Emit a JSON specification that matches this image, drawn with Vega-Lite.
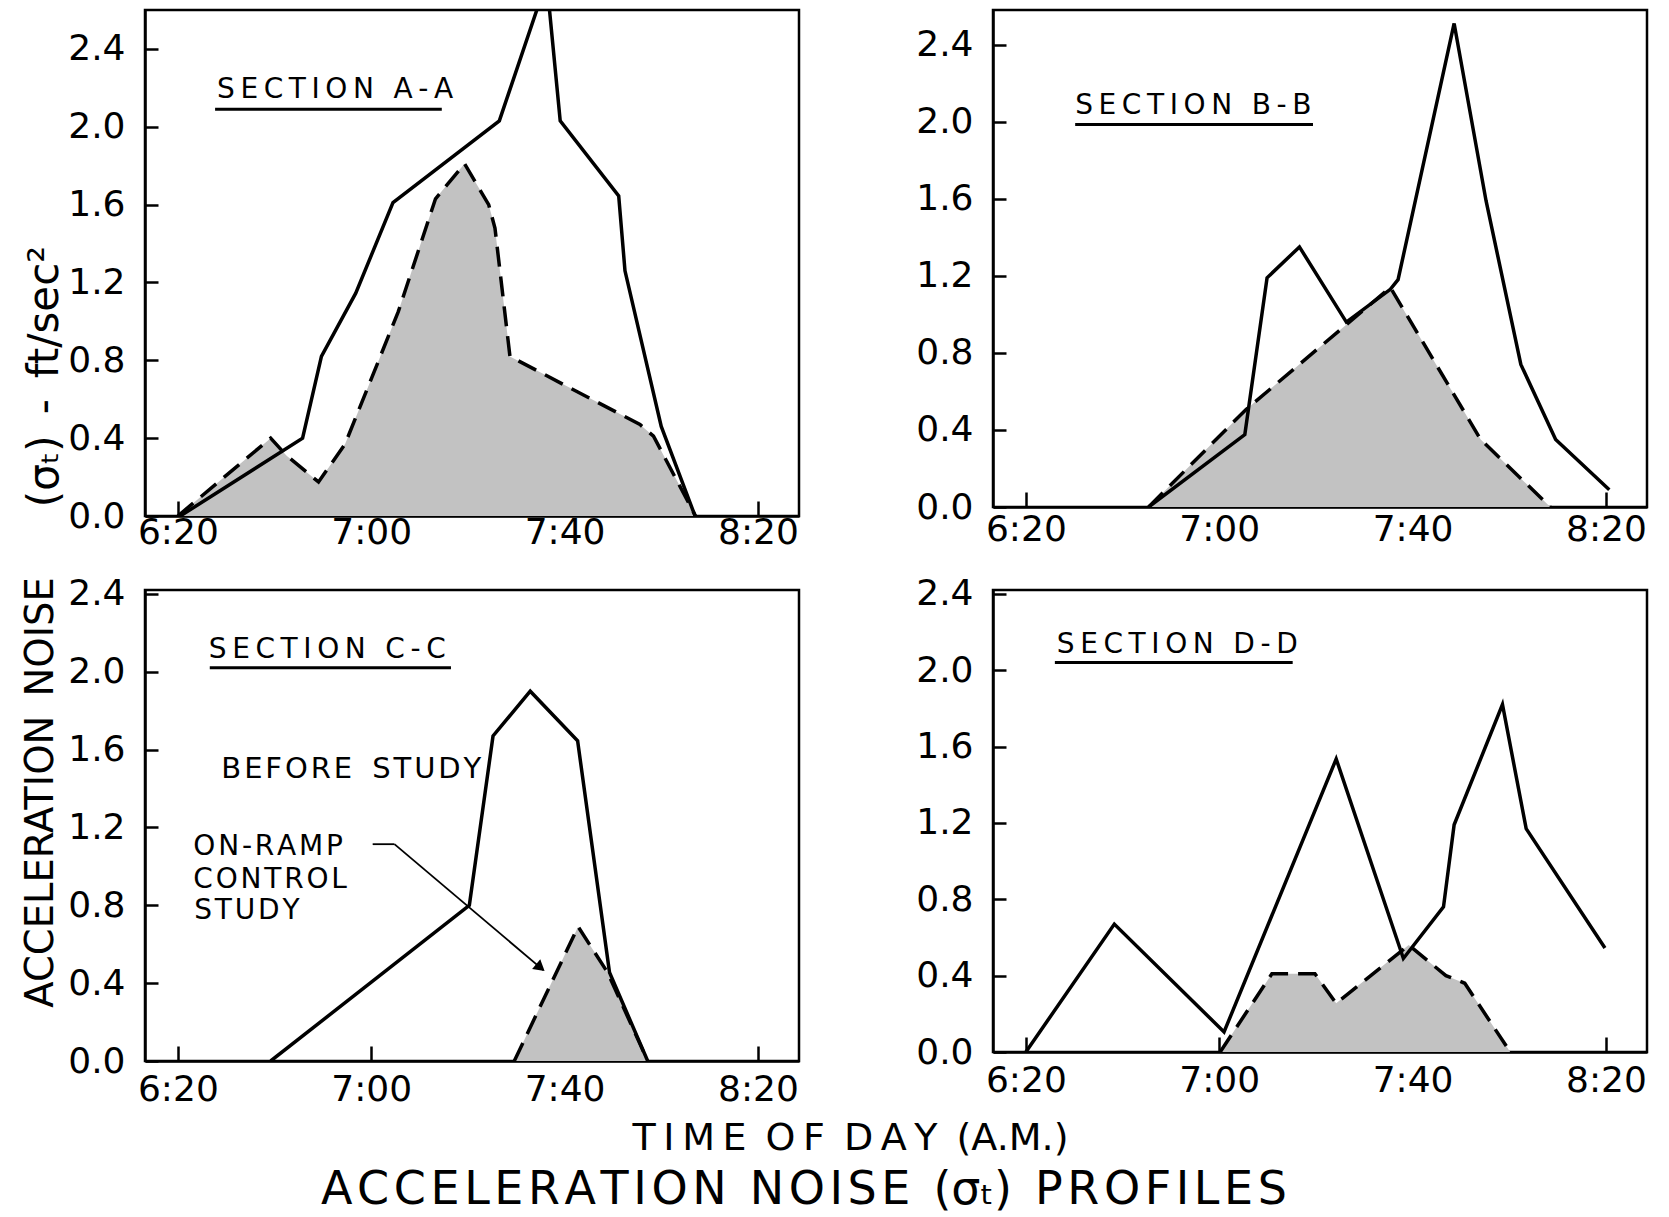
{
  "$schema": "https://vega.github.io/schema/vega-lite/v6.json",
  "background": "white",
  "padding": {"left": 19, "top": 8, "right": 10, "bottom": 2},
  "title": {
    "text": "A\u200aC\u200aC\u200aE\u200aL\u200aE\u200aR\u200aA\u200aT\u200aI\u200aO\u200aN\u2002N\u200aO\u200aI\u200aS\u200aE\u2002(σₜ)\u2002P\u200aR\u200aO\u200aF\u200aI\u200aL\u200aE\u200aS",
    "orient": "bottom",
    "anchor": "middle",
    "font": "DejaVu Sans",
    "fontSize": 46,
    "fontWeight": "normal",
    "color": "black",
    "offset": 10,
    "dx": -30
  },
  "datasets": {
    "profiles": [
      {"section": "A", "study": "before", "t": 20.5, "v": 0},
      {"section": "A", "study": "before", "t": 45.8, "v": 0.40},
      {"section": "A", "study": "before", "t": 49.7, "v": 0.82},
      {"section": "A", "study": "before", "t": 56.8, "v": 1.145},
      {"section": "A", "study": "before", "t": 64.5, "v": 1.61},
      {"section": "A", "study": "before", "t": 86.5, "v": 2.03},
      {"section": "A", "study": "before", "t": 96.3, "v": 2.75},
      {"section": "A", "study": "before", "t": 99.1, "v": 2.03},
      {"section": "A", "study": "before", "t": 111.2, "v": 1.645},
      {"section": "A", "study": "before", "t": 112.5, "v": 1.26},
      {"section": "A", "study": "before", "t": 120.0, "v": 0.46},
      {"section": "A", "study": "before", "t": 127.0, "v": 0},
      {"section": "A", "study": "ramp", "t": 20.0, "v": 0},
      {"section": "A", "study": "ramp", "t": 39.2, "v": 0.40},
      {"section": "A", "study": "ramp", "t": 42.5, "v": 0.31},
      {"section": "A", "study": "ramp", "t": 49.1, "v": 0.175},
      {"section": "A", "study": "ramp", "t": 54.6, "v": 0.37},
      {"section": "A", "study": "ramp", "t": 65.6, "v": 1.05},
      {"section": "A", "study": "ramp", "t": 73.3, "v": 1.63},
      {"section": "A", "study": "ramp", "t": 79.3, "v": 1.81},
      {"section": "A", "study": "ramp", "t": 84.3, "v": 1.60},
      {"section": "A", "study": "ramp", "t": 85.6, "v": 1.48},
      {"section": "A", "study": "ramp", "t": 88.7, "v": 0.82},
      {"section": "A", "study": "ramp", "t": 100.2, "v": 0.67},
      {"section": "A", "study": "ramp", "t": 115.6, "v": 0.47},
      {"section": "A", "study": "ramp", "t": 118.4, "v": 0.41},
      {"section": "A", "study": "ramp", "t": 127.1, "v": 0},
      {"section": "B", "study": "before", "t": 45.4, "v": 0},
      {"section": "B", "study": "before", "t": 65.3, "v": 0.376},
      {"section": "B", "study": "before", "t": 69.9, "v": 1.19},
      {"section": "B", "study": "before", "t": 76.6, "v": 1.35},
      {"section": "B", "study": "before", "t": 86.3, "v": 0.96},
      {"section": "B", "study": "before", "t": 95.4, "v": 1.13},
      {"section": "B", "study": "before", "t": 97.0, "v": 1.18},
      {"section": "B", "study": "before", "t": 108.6, "v": 2.51},
      {"section": "B", "study": "before", "t": 115.2, "v": 1.59},
      {"section": "B", "study": "before", "t": 122.4, "v": 0.74},
      {"section": "B", "study": "before", "t": 129.6, "v": 0.35},
      {"section": "B", "study": "before", "t": 140.7, "v": 0.09},
      {"section": "B", "study": "ramp", "t": 45.4, "v": 0},
      {"section": "B", "study": "ramp", "t": 65.5, "v": 0.505},
      {"section": "B", "study": "ramp", "t": 95.4, "v": 1.14},
      {"section": "B", "study": "ramp", "t": 114.1, "v": 0.35},
      {"section": "B", "study": "ramp", "t": 128.5, "v": 0},
      {"section": "C", "study": "before", "t": 39.2, "v": 0},
      {"section": "C", "study": "before", "t": 80.3, "v": 0.80},
      {"section": "C", "study": "before", "t": 85.2, "v": 1.67},
      {"section": "C", "study": "before", "t": 92.9, "v": 1.90},
      {"section": "C", "study": "before", "t": 102.7, "v": 1.645},
      {"section": "C", "study": "before", "t": 109.3, "v": 0.455},
      {"section": "C", "study": "before", "t": 117.2, "v": 0},
      {"section": "C", "study": "ramp", "t": 89.6, "v": 0},
      {"section": "C", "study": "ramp", "t": 102.8, "v": 0.69},
      {"section": "C", "study": "ramp", "t": 108.9, "v": 0.455},
      {"section": "C", "study": "ramp", "t": 117.2, "v": 0},
      {"section": "D", "study": "before", "t": 20.0, "v": 0},
      {"section": "D", "study": "before", "t": 38.3, "v": 0.67},
      {"section": "D", "study": "before", "t": 61.0, "v": 0.105},
      {"section": "D", "study": "before", "t": 84.2, "v": 1.535},
      {"section": "D", "study": "before", "t": 98.1, "v": 0.49},
      {"section": "D", "study": "before", "t": 106.4, "v": 0.76},
      {"section": "D", "study": "before", "t": 108.6, "v": 1.19},
      {"section": "D", "study": "before", "t": 118.6, "v": 1.82},
      {"section": "D", "study": "before", "t": 123.5, "v": 1.17},
      {"section": "D", "study": "before", "t": 139.8, "v": 0.545},
      {"section": "D", "study": "ramp", "t": 60.2, "v": 0},
      {"section": "D", "study": "ramp", "t": 70.9, "v": 0.41},
      {"section": "D", "study": "ramp", "t": 79.8, "v": 0.41},
      {"section": "D", "study": "ramp", "t": 84.2, "v": 0.255},
      {"section": "D", "study": "ramp", "t": 99.2, "v": 0.56},
      {"section": "D", "study": "ramp", "t": 106.9, "v": 0.40},
      {"section": "D", "study": "ramp", "t": 110.8, "v": 0.36},
      {"section": "D", "study": "ramp", "t": 120.2, "v": 0}
    ],
    "notes": [
      {"note": "annotation"}
    ]
  },
  "columns": 2,
  "bounds": "flush",
  "spacing": {"row": 74, "column": 194},
  "concat": [
    {
      "width": 654,
      "height": 506,
      "layer": [
        {"data": {"name": "profiles"}, "transform": [{"filter": "datum.section == 'A' && datum.study == 'ramp'"}], "mark": {"type": "area", "color": "#c2c2c2"},
         "encoding": {
           "x": {"field": "t", "type": "quantitative", "scale": {"domain": [13.2, 148.5], "nice": false, "zero": false},
                 "axis": {"values": [20, 60, 100, 140], "labelPadding": 14, "labelExpr": "(6 + floor(datum.value / 60)) + ':' + (datum.value % 60 < 10 ? '0' : '') + (datum.value % 60)", "title": null}},
           "y": {"field": "v", "type": "quantitative", "scale": {"domain": [0, 2.6], "nice": false},
                 "axis": {"values": [0, 0.4, 0.8, 1.2, 1.6, 2.0, 2.4], "format": ".1f",
                          "title": "(σₜ)\u2002-\u2002ft/sec²", "titleFontSize": 42, "titleAngle": -90, "titleAlign": "center",
                          "titleBaseline": "alphabetic", "titleX": -88, "titleY": 366}}
         }},
        {"data": {"name": "profiles"}, "transform": [{"filter": "datum.section == 'A' && datum.study == 'ramp'"}], "mark": {"type": "line", "color": "black", "strokeWidth": 3.5, "strokeDash": [20, 10]},
         "encoding": {"x": {"field": "t", "type": "quantitative"}, "y": {"field": "v", "type": "quantitative"}}},
        {"data": {"name": "profiles"}, "transform": [{"filter": "datum.section == 'A' && datum.study == 'before'"}], "mark": {"type": "line", "color": "black", "strokeWidth": 3.5, "clip": true},
         "encoding": {"x": {"field": "t", "type": "quantitative"}, "y": {"field": "v", "type": "quantitative"}}},
        {"data": {"name": "notes"}, "mark": {"type": "text", "text": "S\u2009E\u2009C\u2009T\u2009I\u2009O\u2009N\u2002\u2009A\u2009-\u2009A", "font": "DejaVu Sans", "fontSize": 28, "align": "left", "baseline": "alphabetic", "color": "black"},
         "encoding": {"x": {"datum": 28.1}, "y": {"datum": 2.15}}},
        {"data": {"name": "notes"}, "mark": {"type": "rule", "color": "black", "strokeWidth": 3},
         "encoding": {"x": {"datum": 27.7}, "x2": {"datum": 74.6}, "y": {"datum": 2.09}}}
      ]
    },
    {
      "width": 654,
      "height": 497,
      "layer": [
        {"data": {"name": "profiles"}, "transform": [{"filter": "datum.section == 'B' && datum.study == 'ramp'"}], "mark": {"type": "area", "color": "#c2c2c2"},
         "encoding": {
           "x": {"field": "t", "type": "quantitative", "scale": {"domain": [13.2, 148.5], "nice": false, "zero": false},
                 "axis": {"values": [20, 60, 100, 140], "labelPadding": 20, "labelExpr": "(6 + floor(datum.value / 60)) + ':' + (datum.value % 60 < 10 ? '0' : '') + (datum.value % 60)", "title": null}},
           "y": {"field": "v", "type": "quantitative", "scale": {"domain": [0, 2.58], "nice": false},
                 "axis": {"values": [0, 0.4, 0.8, 1.2, 1.6, 2.0, 2.4], "format": ".1f", "title": null}}
         }},
        {"data": {"name": "profiles"}, "transform": [{"filter": "datum.section == 'B' && datum.study == 'ramp'"}], "mark": {"type": "line", "color": "black", "strokeWidth": 3.5, "strokeDash": [20, 10]},
         "encoding": {"x": {"field": "t", "type": "quantitative"}, "y": {"field": "v", "type": "quantitative"}}},
        {"data": {"name": "profiles"}, "transform": [{"filter": "datum.section == 'B' && datum.study == 'before'"}], "mark": {"type": "line", "color": "black", "strokeWidth": 3.5, "clip": true},
         "encoding": {"x": {"field": "t", "type": "quantitative"}, "y": {"field": "v", "type": "quantitative"}}},
        {"data": {"name": "notes"}, "mark": {"type": "text", "text": "S\u2009E\u2009C\u2009T\u2009I\u2009O\u2009N\u2002\u2009B\u2009-\u2009B", "font": "DejaVu Sans", "fontSize": 28, "align": "left", "baseline": "alphabetic", "color": "black"},
         "encoding": {"x": {"datum": 30.2}, "y": {"datum": 2.04}}},
        {"data": {"name": "notes"}, "mark": {"type": "rule", "color": "black", "strokeWidth": 3},
         "encoding": {"x": {"datum": 30.2}, "x2": {"datum": 79.4}, "y": {"datum": 1.985}}}
      ]
    },
    {
      "width": 654,
      "height": 471,
      "layer": [
        {"data": {"name": "profiles"}, "transform": [{"filter": "datum.section == 'C' && datum.study == 'ramp'"}], "mark": {"type": "area", "color": "#c2c2c2"},
         "encoding": {
           "x": {"field": "t", "type": "quantitative", "scale": {"domain": [13.2, 148.5], "nice": false, "zero": false},
                 "axis": {"values": [20, 60, 100, 140], "labelExpr": "(6 + floor(datum.value / 60)) + ':' + (datum.value % 60 < 10 ? '0' : '') + (datum.value % 60)",
                          "title": "T\u2009I\u2009M\u2009E\u2002O\u2009F\u2002D\u2009A\u2009Y\u2002(A.M.)", "titleFontSize": 38, "titleAlign": "center", "titleBaseline": "alphabetic",
                          "titleX": 705, "titleY": 88}},
           "y": {"field": "v", "type": "quantitative", "scale": {"domain": [0, 2.42], "nice": false},
                 "axis": {"values": [0, 0.4, 0.8, 1.2, 1.6, 2.0, 2.4], "format": ".1f",
                          "title": "ACCELERATION\u2002NOISE", "titleFontSize": 38.5, "titleAngle": -90, "titleAlign": "center",
                          "titleBaseline": "alphabetic", "titleX": -93, "titleY": 202}}
         }},
        {"data": {"name": "profiles"}, "transform": [{"filter": "datum.section == 'C' && datum.study == 'ramp'"}], "mark": {"type": "line", "color": "black", "strokeWidth": 3.5, "strokeDash": [20, 10]},
         "encoding": {"x": {"field": "t", "type": "quantitative"}, "y": {"field": "v", "type": "quantitative"}}},
        {"data": {"name": "profiles"}, "transform": [{"filter": "datum.section == 'C' && datum.study == 'before'"}], "mark": {"type": "line", "color": "black", "strokeWidth": 3.5, "clip": true},
         "encoding": {"x": {"field": "t", "type": "quantitative"}, "y": {"field": "v", "type": "quantitative"}}},
        {"data": {"name": "notes"}, "mark": {"type": "text", "text": "S\u2009E\u2009C\u2009T\u2009I\u2009O\u2009N\u2002\u2009C\u2009-\u2009C", "font": "DejaVu Sans", "fontSize": 28, "align": "left", "baseline": "alphabetic", "color": "black"},
         "encoding": {"x": {"datum": 26.4}, "y": {"datum": 2.07}}},
        {"data": {"name": "notes"}, "mark": {"type": "rule", "color": "black", "strokeWidth": 3},
         "encoding": {"x": {"datum": 26.6}, "x2": {"datum": 76.5}, "y": {"datum": 2.02}}},
        {"data": {"name": "notes"}, "mark": {"type": "text", "text": "B\u200aE\u200aF\u200aO\u200aR\u200aE\u2002\u2009S\u200aT\u200aU\u200aD\u200aY", "font": "DejaVu Sans", "fontSize": 29, "align": "left", "baseline": "alphabetic", "color": "black"},
         "encoding": {"x": {"datum": 29.0}, "y": {"datum": 1.455}}},
        {"data": {"name": "notes"}, "mark": {"type": "text", "text": "O\u200aN\u200a-\u200aR\u200aA\u200aM\u200aP", "font": "DejaVu Sans", "fontSize": 28, "align": "left", "baseline": "alphabetic", "color": "black"},
         "encoding": {"x": {"datum": 23.2}, "y": {"datum": 1.059}}},
        {"data": {"name": "notes"}, "mark": {"type": "text", "text": "C\u200aO\u200aN\u200aT\u200aR\u200aO\u200aL", "font": "DejaVu Sans", "fontSize": 28, "align": "left", "baseline": "alphabetic", "color": "black"},
         "encoding": {"x": {"datum": 23.2}, "y": {"datum": 0.891}}},
        {"data": {"name": "notes"}, "mark": {"type": "text", "text": "S\u200aT\u200aU\u200aD\u200aY", "font": "DejaVu Sans", "fontSize": 28, "align": "left", "baseline": "alphabetic", "color": "black"},
         "encoding": {"x": {"datum": 23.4}, "y": {"datum": 0.73}}},
        {"data": {"name": "notes"}, "mark": {"type": "rule", "color": "black", "strokeWidth": 1.8},
         "encoding": {"x": {"datum": 60.3}, "x2": {"datum": 64.8}, "y": {"datum": 1.114}}},
        {"data": {"name": "notes"}, "mark": {"type": "rule", "color": "black", "strokeWidth": 1.8},
         "encoding": {"x": {"datum": 64.8}, "x2": {"datum": 95.6}, "y": {"datum": 1.114}, "y2": {"datum": 0.467}}},
        {"data": {"name": "notes"}, "mark": {"type": "point", "shape": "triangle-right", "filled": true, "color": "black", "size": 160, "angle": 40, "opacity": 1},
         "encoding": {"x": {"datum": 95.0}, "y": {"datum": 0.48}}}
      ]
    },
    {
      "width": 654,
      "height": 462,
      "layer": [
        {"data": {"name": "profiles"}, "transform": [{"filter": "datum.section == 'D' && datum.study == 'ramp'"}], "mark": {"type": "area", "color": "#c2c2c2"},
         "encoding": {
           "x": {"field": "t", "type": "quantitative", "scale": {"domain": [13.2, 148.5], "nice": false, "zero": false},
                 "axis": {"values": [20, 60, 100, 140], "labelExpr": "(6 + floor(datum.value / 60)) + ':' + (datum.value % 60 < 10 ? '0' : '') + (datum.value % 60)", "title": null}},
           "y": {"field": "v", "type": "quantitative", "scale": {"domain": [0, 2.42], "nice": false},
                 "axis": {"values": [0, 0.4, 0.8, 1.2, 1.6, 2.0, 2.4], "format": ".1f", "title": null}}
         }},
        {"data": {"name": "profiles"}, "transform": [{"filter": "datum.section == 'D' && datum.study == 'ramp'"}], "mark": {"type": "line", "color": "black", "strokeWidth": 3.5, "strokeDash": [20, 10]},
         "encoding": {"x": {"field": "t", "type": "quantitative"}, "y": {"field": "v", "type": "quantitative"}}},
        {"data": {"name": "profiles"}, "transform": [{"filter": "datum.section == 'D' && datum.study == 'before'"}], "mark": {"type": "line", "color": "black", "strokeWidth": 3.5, "clip": true},
         "encoding": {"x": {"field": "t", "type": "quantitative"}, "y": {"field": "v", "type": "quantitative"}}},
        {"data": {"name": "notes"}, "mark": {"type": "text", "text": "S\u2009E\u2009C\u2009T\u2009I\u2009O\u2009N\u2002\u2009D\u2009-\u2009D", "font": "DejaVu Sans", "fontSize": 28, "align": "left", "baseline": "alphabetic", "color": "black"},
         "encoding": {"x": {"datum": 26.4}, "y": {"datum": 2.09}}},
        {"data": {"name": "notes"}, "mark": {"type": "rule", "color": "black", "strokeWidth": 3},
         "encoding": {"x": {"datum": 26.0}, "x2": {"datum": 75.2}, "y": {"datum": 2.04}}}
      ]
    }
  ],
  "config": {
    "view": {"stroke": "black", "strokeWidth": 2.5},
    "axis": {
      "grid": false,
      "labelFont": "DejaVu Sans",
      "labelFontSize": 36,
      "labelColor": "black",
      "labelFlush": false,
      "labelOverlap": false,
      "labelBound": false,
      "tickColor": "black",
      "tickWidth": 2.5,
      "domainColor": "black",
      "domainWidth": 2.5,
      "titleFont": "DejaVu Sans",
      "titleFontWeight": "normal",
      "titleColor": "black"
    },
    "axisX": {"tickSize": -15, "labelPadding": 26},
    "axisY": {"tickSize": -13, "labelPadding": 33}
  }
}
